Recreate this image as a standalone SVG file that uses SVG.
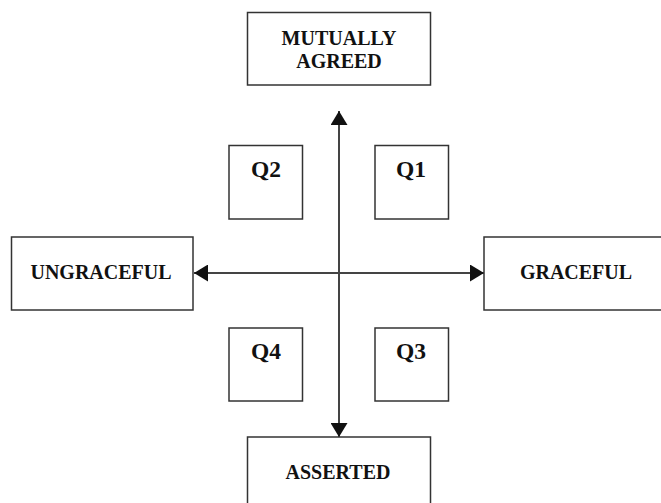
<svg xmlns="http://www.w3.org/2000/svg" width="661" height="503" viewBox="0 0 661 503">
<style>
.box{fill:#fff;stroke:#333;stroke-width:1.5}
.lbl{font-family:"Liberation Serif","Times New Roman",serif;font-weight:bold;font-size:20px;fill:#111;text-anchor:middle}
.q{font-size:23.5px}
.ax{stroke:#444;stroke-width:2;fill:none}
</style>
<defs>
<marker id="arr" viewBox="0 0 14 17" refX="14" refY="8.5" markerWidth="14" markerHeight="17" orient="auto" markerUnits="userSpaceOnUse">
<path d="M0,0 L14,8.5 L0,17 Z" fill="#111"/>
</marker>
</defs>
<g id="connectors">
<line class="ax" x1="339" y1="273" x2="339" y2="111" marker-end="url(#arr)"/>
<line class="ax" x1="339" y1="273" x2="339" y2="437" marker-end="url(#arr)"/>
<line class="ax" x1="339" y1="273" x2="194" y2="273" marker-end="url(#arr)"/>
<line class="ax" x1="339" y1="273" x2="484" y2="273" marker-end="url(#arr)"/>
</g>
<g id="mutually-agreed">
<rect class="box" x="247.5" y="12.5" width="183" height="72.5"/>
<text class="lbl" x="339" y="45">MUTUALLY</text>
<text class="lbl" x="339" y="68">AGREED</text>
</g>
<g id="ungraceful">
<rect class="box" x="11.5" y="237" width="181.5" height="73"/>
<text class="lbl" x="101" y="279">UNGRACEFUL</text>
</g>
<g id="graceful">
<rect class="box" x="484" y="237" width="190" height="73"/>
<text class="lbl" x="576" y="279">GRACEFUL</text>
</g>
<g id="asserted">
<rect class="box" x="247.5" y="437" width="183" height="80"/>
<text class="lbl" x="338" y="479">ASSERTED</text>
</g>
<g id="q2">
<rect class="box" x="229" y="145.5" width="73.5" height="73.5"/>
<text class="lbl q" x="266" y="177">Q2</text>
</g>
<g id="q1">
<rect class="box" x="375" y="145.5" width="73.5" height="73.5"/>
<text class="lbl q" x="411" y="177">Q1</text>
</g>
<g id="q4">
<rect class="box" x="229" y="328" width="73.5" height="73"/>
<text class="lbl q" x="266" y="359">Q4</text>
</g>
<g id="q3">
<rect class="box" x="375" y="328" width="73.5" height="73"/>
<text class="lbl q" x="411" y="359">Q3</text>
</g>
</svg>
